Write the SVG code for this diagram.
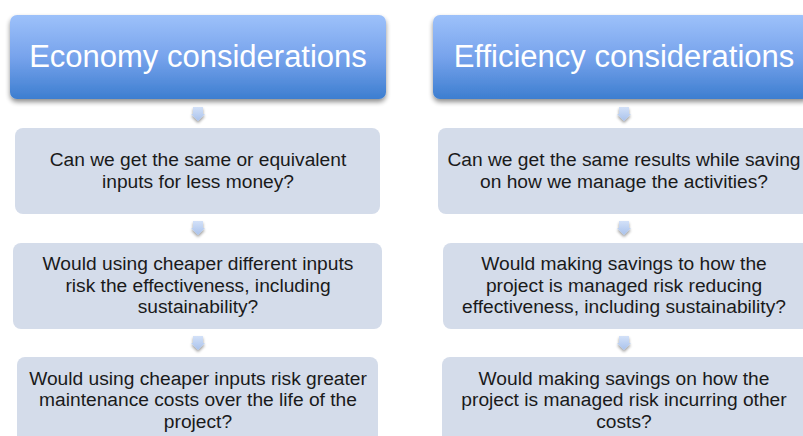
<svg xmlns="http://www.w3.org/2000/svg" width="803" height="436" viewBox="0 0 803 436">
  <style>
    .hdr-text { font-family: "Liberation Sans", Arial, sans-serif; font-size: 31px; fill: #ffffff; text-anchor: middle; }
    .box { fill: #d4dcea; }
    .box-text { font-family: "Liberation Sans", Arial, sans-serif; font-size: 19.2px; fill: #1a1a1a; text-anchor: middle; }
    .arrow { fill: url(#arrowGrad); filter: url(#arrowShadow); }
  </style>
  <defs>
    <linearGradient id="hdrGrad" x1="0" y1="0" x2="0" y2="1">
      <stop offset="0" stop-color="#9dc1fa"/>
      <stop offset="0.5" stop-color="#77a3ec"/>
      <stop offset="1" stop-color="#3d7ed0"/>
    </linearGradient>
    <linearGradient id="arrowGrad" x1="0" y1="0" x2="0" y2="1">
      <stop offset="0" stop-color="#d3e1f8"/>
      <stop offset="1" stop-color="#a9c2ec"/>
    </linearGradient>
    <filter id="hdrShadow" x="-5%" y="-10%" width="110%" height="130%">
      <feGaussianBlur in="SourceAlpha" stdDeviation="2.5"/>
      <feOffset dx="0" dy="3" result="b"/>
      <feComponentTransfer><feFuncA type="linear" slope="0.45"/></feComponentTransfer>
      <feMerge><feMergeNode/><feMergeNode in="SourceGraphic"/></feMerge>
    </filter>
    <filter id="arrowShadow" x="-50%" y="-50%" width="200%" height="200%">
      <feGaussianBlur in="SourceAlpha" stdDeviation="1.5"/>
      <feOffset dx="0" dy="2" result="b"/>
      <feComponentTransfer><feFuncA type="linear" slope="0.4"/></feComponentTransfer>
      <feMerge><feMergeNode/><feMergeNode in="SourceGraphic"/></feMerge>
    </filter>
    <path id="arr" d="M -5 0 H 5 V 7 H 7 L 0 14 L -7 7 H -5 Z"/>
  </defs>

  <!-- Left column -->
  <g id="economy-header">
    <rect x="10" y="15" width="376" height="84" rx="7" fill="url(#hdrGrad)" filter="url(#hdrShadow)"/>
    <text class="hdr-text" x="198" y="67">Economy considerations</text>
  </g>
  <g id="economy-q1">
    <rect class="box" x="15" y="128" width="365" height="86" rx="8"/>
    <text class="box-text" x="198" y="166">Can we get the same or equivalent</text>
    <text class="box-text" x="198" y="188">inputs for less money?</text>
  </g>
  <g id="economy-q2">
    <rect class="box" x="13" y="243" width="369" height="86" rx="8"/>
    <text class="box-text" x="198" y="270">Would using cheaper different inputs</text>
    <text class="box-text" x="198" y="292">risk the effectiveness, including</text>
    <text class="box-text" x="198" y="313">sustainability?</text>
  </g>
  <g id="economy-q3">
    <rect class="box" x="17" y="357" width="361" height="90" rx="8"/>
    <text class="box-text" x="198" y="385">Would using cheaper inputs risk greater</text>
    <text class="box-text" x="198" y="406">maintenance costs over the life of the</text>
    <text class="box-text" x="198" y="428">project?</text>
  </g>

  <!-- Right column -->
  <g id="efficiency-header">
    <rect x="433" y="15" width="376" height="84" rx="7" fill="url(#hdrGrad)" filter="url(#hdrShadow)"/>
    <text class="hdr-text" x="624" y="67">Efficiency considerations</text>
  </g>
  <g id="efficiency-q1">
    <rect class="box" x="438" y="128" width="372" height="86" rx="8"/>
    <text class="box-text" x="624" y="166">Can we get the same results while saving</text>
    <text class="box-text" x="624" y="188">on how we manage the activities?</text>
  </g>
  <g id="efficiency-q2">
    <rect class="box" x="443" y="243" width="370" height="86" rx="8"/>
    <text class="box-text" x="624" y="270">Would making savings to how the</text>
    <text class="box-text" x="624" y="292">project is managed risk reducing</text>
    <text class="box-text" x="624" y="313">effectiveness, including sustainability?</text>
  </g>
  <g id="efficiency-q3">
    <rect class="box" x="442" y="357" width="370" height="90" rx="8"/>
    <text class="box-text" x="624" y="385">Would making savings on how the</text>
    <text class="box-text" x="624" y="406">project is managed risk incurring other</text>
    <text class="box-text" x="624" y="428">costs?</text>
  </g>

  <!-- Connectors -->
  <g id="connectors">
    <use href="#arr" class="arrow" x="198" y="107"/>
    <use href="#arr" class="arrow" x="198" y="221"/>
    <use href="#arr" class="arrow" x="198" y="336"/>
    <use href="#arr" class="arrow" x="624" y="107"/>
    <use href="#arr" class="arrow" x="624" y="221"/>
    <use href="#arr" class="arrow" x="624" y="336"/>
  </g>
</svg>
